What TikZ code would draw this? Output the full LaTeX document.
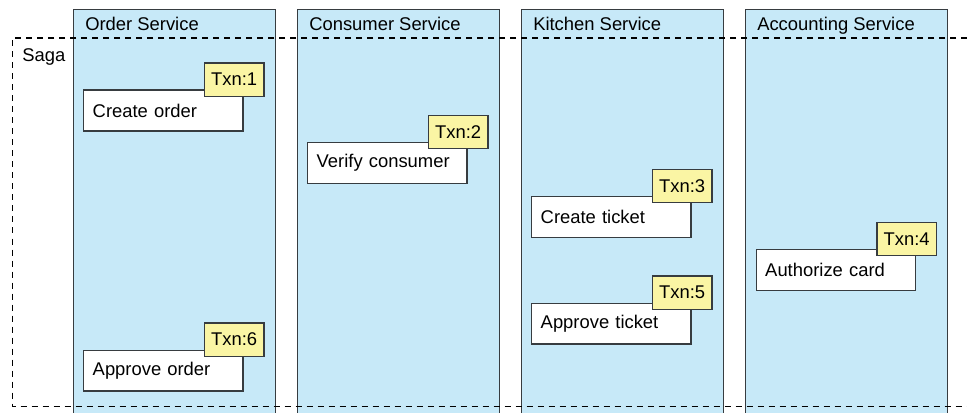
\documentclass[tikz,border=0pt]{standalone}
\usepackage{fontspec}
\setmainfont{Liberation Sans}
\definecolor{lanebg}{RGB}{199,233,248}
\definecolor{txnbg}{RGB}{250,245,164}
\definecolor{edge}{RGB}{55,60,64}

\begin{document}
\begin{tikzpicture}[
    x=0.75pt, y=-0.75pt,
    every node/.style={font=\fontsize{13.8}{16}\selectfont},
    lane/.style={draw=edge, fill=lanebg, line width=0.8pt, minimum width=151.5pt, minimum height=315pt, inner sep=0pt, anchor=north west},
    title/.style={anchor=base west, inner sep=0pt},
    stepbox/.style={draw=edge, fill=white, line width=1.1pt, text width=106pt, align=left, inner xsep=6.75pt, inner ysep=0pt, minimum height=30.5pt, anchor=north west},
    txn/.style={draw=edge, fill=txnbg, line width=1.1pt, minimum width=44.5pt, minimum height=25pt, inner sep=0pt, anchor=south west},
    saga/.style={draw=black, line width=0.8pt, dash pattern=on 4.5pt off 3.75pt},
  ]

  \clip (0,0) rectangle (967,413);

  % the services
  \node[lane] (order)  at (73,9)  {};
  \node[lane] (cons)   at (297,9) {};
  \node[lane] (kitch)  at (521,9) {};
  \node[lane] (acct)   at (745,9) {};
  \node[title] at ([shift={(12,21.5)}]order.north west) {Order Service};
  \node[title] at ([shift={(12,21.5)}]cons.north west)  {Consumer Service};
  \node[title] at ([shift={(12,21.5)}]kitch.north west) {Kitchen Service};
  \node[title] at ([shift={(12,21.5)}]acct.north west)  {Accounting Service};

  % the saga
  \draw[saga] (1000,38) -- (12.5,38) -- (12.5,406.5) -- (1000,406.5);
  \node[title] (sg) at (22,62) {Saga};

  % the local transactions
  \node[stepbox] (s1) at (83,89.5)  {Create order};
  \node[txn] (t1) at ([shift={(-40,7.5)}]s1.north east) {Txn:1};

  \node[stepbox] (s2) at (307,142) {Verify consumer};
  \node[txn] (t2) at ([shift={(-40,7.5)}]s2.north east) {Txn:2};

  \node[stepbox] (s3) at (531,196) {Create ticket};
  \node[txn] (t3) at ([shift={(-40,7.5)}]s3.north east) {Txn:3};

  \node[stepbox] (s4) at (755.5,249)   {Authorize card};
  \node[txn] (t4) at ([shift={(-40,7.5)}]s4.north east) {Txn:4};

  \node[stepbox] (s5) at (531,302.5) {Approve ticket};
  \node[txn] (t5) at ([shift={(-40,7.5)}]s5.north east) {Txn:5};

  \node[stepbox] (s6) at (83,349.5) {Approve order};
  \node[txn] (t6) at ([shift={(-40,7.5)}]s6.north east) {Txn:6};

\end{tikzpicture}
\end{document}
